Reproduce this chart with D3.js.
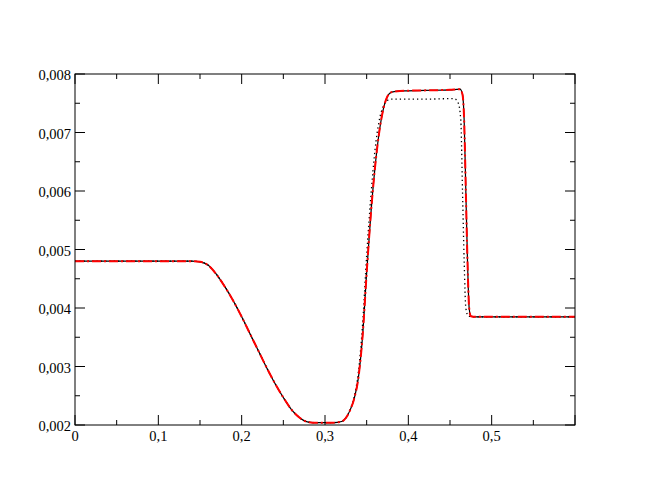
<!DOCTYPE html>
<html>
<head>
<meta charset="utf-8">
<style>
  body { margin: 0; background: #fff; }
  svg text { font-family: "Liberation Serif", "DejaVu Serif", serif; font-size: 14.5px; fill: #000; }
  .frame { fill: none; stroke: #000; stroke-width: 1px; }
  .tick-line { stroke: #000; stroke-width: 1px; }
</style>
</head>
<body>
<svg width="648" height="501"></svg>
<script src="https://d3js.org/d3.v7.min.js"></script>
<script>
// solid black / red dash-dot curve (the two coincide)
var solidX = [0, 0.10, 0.14, 0.15, 0.16, 0.17, 0.18, 0.19, 0.20, 0.21, 0.22, 0.23, 0.24, 0.25, 0.26, 0.27, 0.28, 0.29, 0.30, 0.31, 0.32,
              0.325, 0.33, 0.335, 0.34, 0.345, 0.35, 0.355, 0.36, 0.365, 0.37, 0.375, 0.38, 0.39, 0.42, 0.45, 0.462,
              0.465, 0.467, 0.469, 0.471, 0.473, 0.475, 0.48, 0.6];
var solidY = [0.0048, 0.0048, 0.0048, 0.00479, 0.00473, 0.00457, 0.00436, 0.00412, 0.00385, 0.00356, 0.00327, 0.00298, 0.00271, 0.00247, 0.00226, 0.00212, 0.00205, 0.00204, 0.00204, 0.00204, 0.00206,
              0.00212, 0.00225, 0.00245, 0.0028, 0.0035, 0.0046, 0.0056, 0.0064, 0.0070, 0.0074, 0.00762, 0.00769, 0.00771, 0.00772, 0.00773, 0.00774,
              0.00765, 0.0072, 0.0060, 0.0048, 0.0040, 0.00386, 0.00385, 0.00385];

// dotted black curve
var dotX = [0, 0.10, 0.14, 0.15, 0.16, 0.17, 0.18, 0.19, 0.20, 0.21, 0.22, 0.23, 0.24, 0.25, 0.26, 0.27, 0.28, 0.29, 0.30, 0.31, 0.32,
            0.325, 0.33, 0.335, 0.34, 0.345, 0.35, 0.355, 0.36, 0.365, 0.37, 0.375, 0.38, 0.42, 0.455,
            0.46, 0.463, 0.465, 0.467, 0.469, 0.472, 0.48, 0.6];
var dotY = [0.0048, 0.0048, 0.0048, 0.00479, 0.00473, 0.00457, 0.00436, 0.00412, 0.00385, 0.00356, 0.00327, 0.00298, 0.00271, 0.00247, 0.00226, 0.00212, 0.00205, 0.00204, 0.00204, 0.00204, 0.00206,
            0.00212, 0.00226, 0.00248, 0.0029, 0.0037, 0.0049, 0.0059, 0.0067, 0.0072, 0.00745, 0.00755, 0.00757, 0.00757, 0.00758,
            0.0075, 0.0072, 0.0060, 0.0048, 0.0040, 0.00386, 0.00385, 0.00385];

var xTicks = [0, 0.1, 0.2, 0.3, 0.4, 0.5, 0.6];
var xTickLabels = ["0", "0,1", "0,2", "0,3", "0,4", "0,5", ""];
var yTicks = [0.002, 0.003, 0.004, 0.005, 0.006, 0.007, 0.008];
var yTickLabels = ["0,002", "0,003", "0,004", "0,005", "0,006", "0,007", "0,008"];

var svg = d3.select("svg");
var mLeft = 75, mRight = 575, mTop = 74, mBottom = 425;

var x = d3.scaleLinear().domain([0, 0.6]).range([mLeft, mRight]);
var y = d3.scaleLinear().domain([0.002, 0.008]).range([mBottom, mTop]);

var line = d3.line()
  .x(function(d) { return x(d[0]); })
  .y(function(d) { return y(d[1]); })
  .curve(d3.curveMonotoneX);

var solid = d3.zip(solidX, solidY);
var dotted = d3.zip(dotX, dotY);

var plot = svg.append("g");

plot.append("path").attr("d", line(solid))
  .attr("fill", "none").attr("stroke", "#000").attr("stroke-width", 1.2);
plot.append("path").attr("d", line(dotted))
  .attr("fill", "none").attr("stroke", "#000").attr("stroke-width", 1.3)
  .attr("stroke-dasharray", "1.3,3");
plot.append("path").attr("d", line(solid))
  .attr("fill", "none").attr("stroke", "#f00").attr("stroke-width", 2)
  .attr("stroke-dasharray", "9,3,2,3");

// frame
svg.append("rect").attr("class", "frame")
  .attr("x", mLeft).attr("y", mTop)
  .attr("width", mRight - mLeft).attr("height", mBottom - mTop);

// ticks (inward on all four sides)
var xMinor = d3.range(0.05, 0.6, 0.1);
var yMinor = d3.range(0.0025, 0.008, 0.001);
var g = svg.append("g");

xTicks.forEach(function(t) {
  g.append("line").attr("class", "tick-line").attr("x1", x(t)).attr("x2", x(t)).attr("y1", mBottom).attr("y2", mBottom - 10);
  g.append("line").attr("class", "tick-line").attr("x1", x(t)).attr("x2", x(t)).attr("y1", mTop).attr("y2", mTop + 10);
});
xMinor.forEach(function(t) {
  g.append("line").attr("class", "tick-line").attr("x1", x(t)).attr("x2", x(t)).attr("y1", mBottom).attr("y2", mBottom - 5);
  g.append("line").attr("class", "tick-line").attr("x1", x(t)).attr("x2", x(t)).attr("y1", mTop).attr("y2", mTop + 5);
});
yTicks.forEach(function(t) {
  g.append("line").attr("class", "tick-line").attr("x1", mLeft).attr("x2", mLeft + 10).attr("y1", y(t)).attr("y2", y(t));
  g.append("line").attr("class", "tick-line").attr("x1", mRight).attr("x2", mRight - 10).attr("y1", y(t)).attr("y2", y(t));
});
yMinor.forEach(function(t) {
  g.append("line").attr("class", "tick-line").attr("x1", mLeft).attr("x2", mLeft + 5).attr("y1", y(t)).attr("y2", y(t));
  g.append("line").attr("class", "tick-line").attr("x1", mRight).attr("x2", mRight - 5).attr("y1", y(t)).attr("y2", y(t));
});

// labels
svg.selectAll(".xlab").data(xTicks).enter().append("text")
  .attr("class", "xlab")
  .attr("x", function(d) { return x(d); })
  .attr("y", mBottom + 16)
  .attr("text-anchor", "middle")
  .text(function(d, i) { return xTickLabels[i]; });

svg.selectAll(".ylab").data(yTicks).enter().append("text")
  .attr("class", "ylab")
  .attr("x", mLeft - 4)
  .attr("y", function(d) { return y(d) + 6; })
  .attr("text-anchor", "end")
  .text(function(d, i) { return yTickLabels[i]; });
</script>
</body>
</html>
